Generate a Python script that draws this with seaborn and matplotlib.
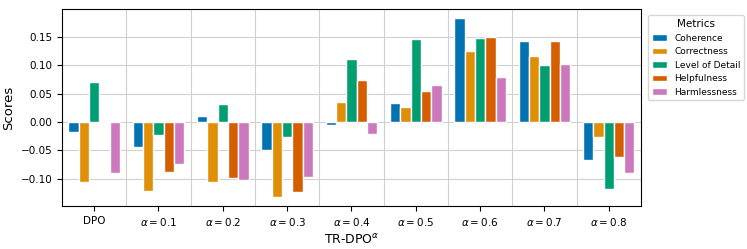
import matplotlib
matplotlib.use("Agg")
import matplotlib.pyplot as plt
import seaborn as sns
import pandas as pd
from matplotlib.ticker import FixedLocator

# groups on the x axis
groups = ["DPO", r"$\alpha = 0.1$", r"$\alpha = 0.2$", r"$\alpha = 0.3$", r"$\alpha = 0.4$",
          r"$\alpha = 0.5$", r"$\alpha = 0.6$", r"$\alpha = 0.7$", r"$\alpha = 0.8$"]
metrics = ["Coherence", "Correctness", "Level of Detail", "Helpfulness", "Harmlessness"]

# scores per metric, one value per group
coherence = [-0.017, -0.0435, 0.011, -0.049, -0.005, 0.033, 0.1835, 0.143, -0.066]
correctness = [-0.105, -0.122, -0.105, -0.132, 0.036, 0.026, 0.125, 0.116, -0.026]
level_of_detail = [0.071, -0.022, 0.031, -0.026, 0.111, 0.147, 0.148, 0.101, -0.118]
helpfulness = [0.0, -0.088, -0.098, -0.123, 0.074, 0.054, 0.150, 0.142, -0.061]
harmlessness = [-0.089, -0.0735, -0.102, -0.096, -0.021, 0.066, 0.079, 0.102, -0.089]

series = [coherence, correctness, level_of_detail, helpfulness, harmlessness]
rows = []
for m, vals in zip(metrics, series):
    for g, v in zip(groups, vals):
        rows.append({"Group": g, "Metric": m, "Score": v})
df = pd.DataFrame(rows)

fig, ax = plt.subplots(figsize=(7.47, 2.49), dpi=100)
sns.barplot(data=df, x="Group", y="Score", hue="Metric", order=groups, hue_order=metrics,
            palette="colorblind", saturation=1, edgecolor="white", linewidth=1,
            width=0.8, ax=ax, zorder=3)

ax.set_xlabel(r"TR-DPO$^{\alpha}$", fontsize=9)
ax.set_ylabel("Scores", fontsize=9.5)
ax.tick_params(axis="both", labelsize=7.5)

# grid: horizontal at y ticks, vertical between groups
ax.xaxis.set_minor_locator(FixedLocator([i + 0.5 for i in range(len(groups) - 1)]))
ax.tick_params(axis="x", which="minor", length=0)
ax.grid(axis="y", which="major", color="#d0d0d0", linewidth=0.8, zorder=0)
ax.grid(axis="x", which="minor", color="#d0d0d0", linewidth=0.8, zorder=0)
ax.set_axisbelow(True)

ax.legend(title="Metrics", loc="upper left", bbox_to_anchor=(1.005, 0.99),
          fontsize=6.5, title_fontsize=7.5, handlelength=1.7)

fig.subplots_adjust(left=0.083, right=0.858, top=0.964, bottom=0.173)
fig.savefig("out.png", dpi=100)
